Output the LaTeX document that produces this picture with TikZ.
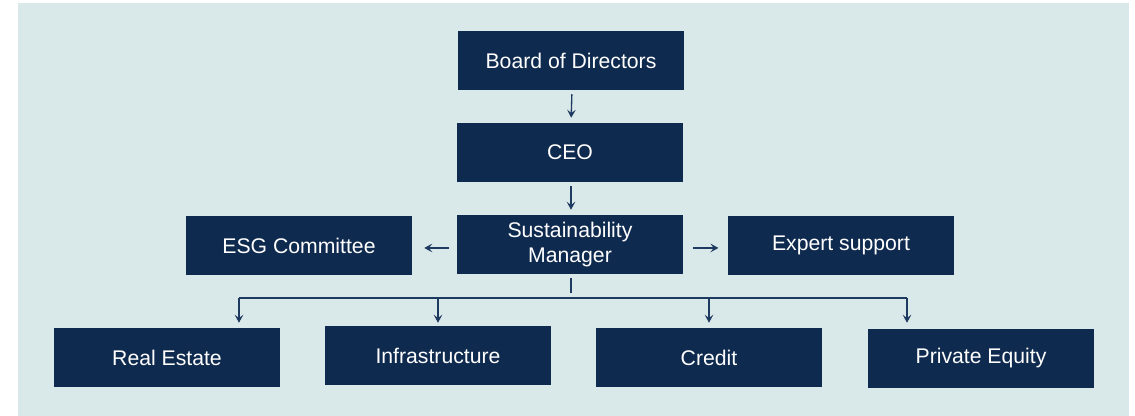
\documentclass[tikz,border=0pt]{standalone}
\usepackage{fontspec}
\setmainfont{Liberation Sans}
\usetikzlibrary{arrows.meta}
\definecolor{bgc}{HTML}{D9E8E9}
\definecolor{boxc}{HTML}{0F2A4F}
\definecolor{linec}{HTML}{1F3A60}
\begin{document}
\begin{tikzpicture}[x=0.75pt,y=-0.75pt,
  box/.style={fill=boxc, draw=none, text=white, minimum width=169.5pt, minimum height=44.25pt,
    inner sep=0pt, align=center, font=\fontsize{15.9}{18.5}\selectfont},
  conn/.style={draw=linec, line width=1pt},
  arr/.style={conn, -{Stealth[length=6pt,width=6.5pt,inset=2.5pt]}}]
\useasboundingbox (0,0) rectangle (1135,416);
\fill[bgc] (18,3) rectangle (1129,416);
\node[box] (board) at (571,60.5) {Board of Directors};
\node[box] (ceo) at (570,152.5) {CEO};
\node[box] (sm) at (570,244.5) {Sustainability\\Manager};
\node[box] (esg) at (299,245.5) {ESG Committee};
\node[box] (exp) at (841,245.5) {Expert support};
\node[box] (re) at (167,357.5) {Real Estate};
\node[box] (inf) at (438,355.5) {Infrastructure};
\node[box] (cr) at (709,357.5) {Credit};
\node[box] (pe) at (981,358.5) {Private Equity};
\draw[arr, shorten <=3pt, shorten >=3.75pt] ([xshift=0.75pt]board.south) -- ([xshift=0.75pt]ceo.north);
\draw[arr, shorten <=3pt, shorten >=3.75pt] ([xshift=0.75pt]ceo.south) -- ([xshift=0.75pt]sm.north);
\draw[arr, shorten <=6pt, shorten >=9pt] ([yshift=-2.6pt]sm.west) -- ([yshift=-2.6pt]sm.west -| esg.east);
\draw[arr, shorten <=7.5pt, shorten >=7pt] ([yshift=-2.6pt]sm.east) -- ([yshift=-2.6pt]sm.east -| exp.west);
\coordinate (bus) at (571,298);
\coordinate (d1) at (239,298);
\coordinate (d2) at (438,298);
\coordinate (d3) at (709,298);
\coordinate (d4) at (907,298);
\draw[conn, shorten <=3pt, shorten >=3.75pt] ([xshift=0.75pt]sm.south) -- (bus);
\draw[conn] (d1) -- (d4);
\draw[arr, shorten >=3.75pt] (d1) -- (d1 |- re.north);
\draw[arr, shorten >=2.25pt] (d2) -- (d2 |- inf.north);
\draw[arr, shorten >=3.75pt] (d3) -- (d3 |- cr.north);
\draw[arr, shorten >=4.5pt] (d4) -- (d4 |- pe.north);
\end{tikzpicture}
\end{document}
